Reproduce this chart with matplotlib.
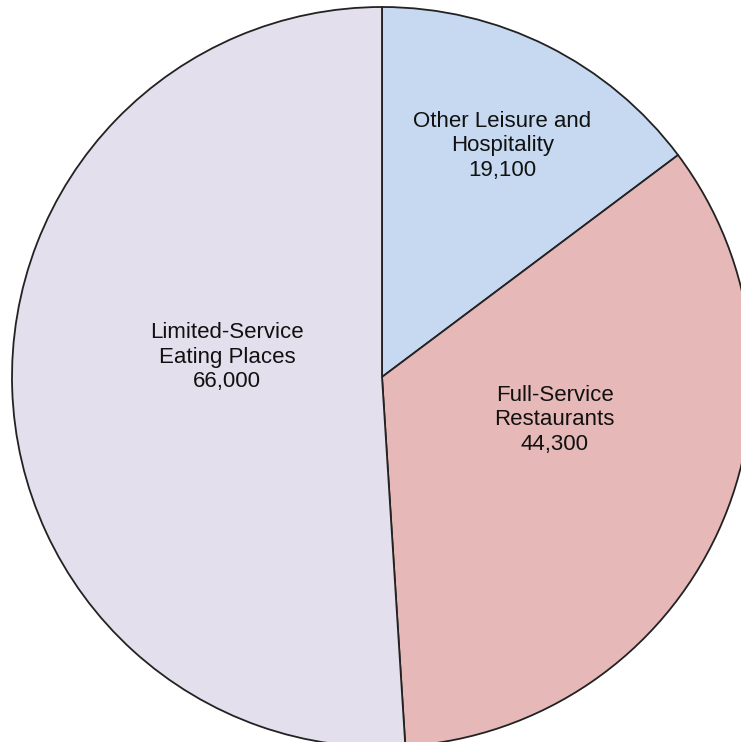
import matplotlib.pyplot as plt

# DATA
labels = ['Other Leisure and\nHospitality', 'Full-Service\nRestaurants', 'Limited-Service\nEating Places']
values = [19100, 44300, 66000]
colors = ['#C6D9F1', '#E6B9B8', '#E4DFEC']
# label anchor points in pie units (radius = 1)
label_pos = [(0.325, 0.625), (0.467, -0.115), (-0.418, 0.054)]

plt.rcParams['font.family'] = ['Liberation Sans', 'DejaVu Sans']

fig = plt.figure(figsize=(7.41, 7.42), dpi=100)
ax = fig.add_axes([0, 0, 1, 1])

wedges, _ = ax.pie(values, colors=colors, startangle=90, counterclock=False,
                   radius=1, wedgeprops=dict(edgecolor='#222222', linewidth=1.3))

for lab, v, (x, y) in zip(labels, values, label_pos):
    ax.text(x, y, '%s\n%s' % (lab, format(v, ',')), ha='center', va='center',
            fontsize=16, color='#111111', linespacing=1.22)

# circle centre at pixel (382, 377), radius 370 px
r = 370.0
ax.set_xlim(-382 / r, (741 - 382) / r)
ax.set_ylim(-(742 - 377) / r, 377 / r)
ax.set_aspect('auto')
ax.axis('off')

fig.savefig('out.png', dpi=100)
